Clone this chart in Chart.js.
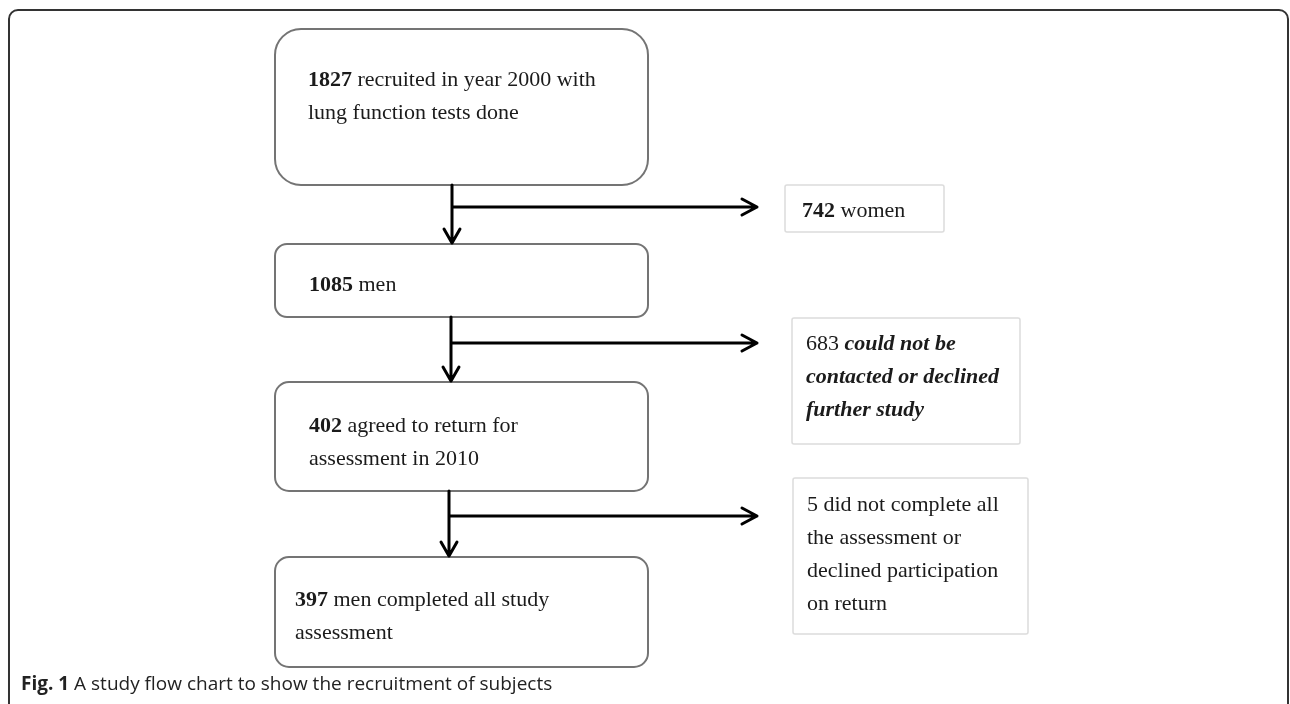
<!DOCTYPE html>
<html>
<head>
<meta charset="utf-8">
<script src="https://cdn.jsdelivr.net/npm/chart.js@4"></script>
<style>
  body { margin: 0; background: #fff; }
  #wrap { width: 1290px; height: 704px; }
</style>
</head>
<body>
<div id="wrap"><canvas id="flow"></canvas></div>
<script>
// study flow: people kept at each stage, and people leaving between stages
let stageCounts = [1827, 1085, 402, 397];
let stageText = [
  ["recruited in year 2000 with", "lung function tests done"],
  ["men"],
  ["agreed to return for", "assessment in 2010"],
  ["men completed all study", "assessment"]
];
let exitCounts = [742, 683, 5];
let exitText = [
  ["women"],
  ["could not be", "contacted or declined", "further study"],
  ["did not complete all", "the assessment or", "declined participation", "on return"]
];
let caption = ["Fig. 1", " A study flow chart to show the recruitment of subjects"];

// layout, in axis units (axes run 0..1290 and 0..704)
let stageBox = [
  {x: 275, y: 29, w: 373, h: 156, r: 26, tx: 308, ty: 80},
  {x: 275, y: 244, w: 373, h: 73, r: 12, tx: 309, ty: 285},
  {x: 275, y: 382, w: 373, h: 109, r: 14, tx: 309, ty: 426},
  {x: 275, y: 557, w: 373, h: 110, r: 14, tx: 295, ty: 600}
];
let exitBox = [
  {x: 785, y: 185, w: 159, h: 47, tx: 802, ty: 211, numFont: "bold", txtFont: ""},
  {x: 792, y: 318, w: 228, h: 126, tx: 806, ty: 344, numFont: "", txtFont: "italic bold"},
  {x: 793, y: 478, w: 235, h: 156, tx: 807, ty: 505, numFont: "", txtFont: ""}
];
let arrowX = [452, 451, 449];
let branchY = [207, 343, 516];
let branchEnd = 757;
let lineGap = 33;
let serif = "22px 'Liberation Serif', 'Times New Roman', serif";
let sans = "19px 'Open Sans', sans-serif";

function roundRect(ctx, x0, y0, x1, y1, r) {
  ctx.beginPath();
  ctx.moveTo(x0 + r, y0);
  ctx.arcTo(x1, y0, x1, y1, r);
  ctx.arcTo(x1, y1, x0, y1, r);
  ctx.arcTo(x0, y1, x0, y0, r);
  ctx.arcTo(x0, y0, x1, y0, r);
  ctx.closePath();
}

function textRun(ctx, x, y, parts) {
  parts.forEach(p => {
    ctx.font = (p.style ? p.style + " " : "") + p.font;
    ctx.fillText(p.text, x, y);
    x += ctx.measureText(p.text).width;
  });
}

const flowPlugin = {
  id: "flow",
  afterDraw(chart) {
    const ctx = chart.ctx;
    const sx = chart.scales.x, sy = chart.scales.y;
    const px = v => sx.getPixelForValue(v);
    const py = v => sy.getPixelForValue(v);
    ctx.save();
    ctx.fillStyle = "#fff";
    ctx.fillRect(0, 0, chart.width, chart.height);

    // outer figure frame
    ctx.strokeStyle = "#333";
    ctx.lineWidth = 2;
    roundRect(ctx, px(9), py(10), px(1288), py(760), 9);
    ctx.stroke();

    ctx.textBaseline = "middle";
    ctx.fillStyle = "#1b1b1b";

    // main stage boxes
    stageCounts.forEach((n, i) => {
      const b = stageBox[i];
      ctx.strokeStyle = "#747474";
      ctx.lineWidth = 2;
      roundRect(ctx, px(b.x), py(b.y), px(b.x + b.w), py(b.y + b.h), b.r);
      ctx.stroke();
      stageText[i].forEach((line, k) => {
        const parts = k === 0
          ? [{text: String(n), style: "bold", font: serif}, {text: " " + line, style: "", font: serif}]
          : [{text: line, style: "", font: serif}];
        textRun(ctx, px(b.tx), py(b.ty + k * lineGap), parts);
      });
    });

    // exit boxes
    exitCounts.forEach((n, i) => {
      const b = exitBox[i];
      ctx.strokeStyle = "#dcdcdc";
      ctx.lineWidth = 1.5;
      roundRect(ctx, px(b.x), py(b.y), px(b.x + b.w), py(b.y + b.h), 2);
      ctx.stroke();
      exitText[i].forEach((line, k) => {
        const parts = k === 0
          ? [{text: String(n), style: b.numFont, font: serif}, {text: " " + line, style: b.txtFont, font: serif}]
          : [{text: line, style: b.txtFont, font: serif}];
        textRun(ctx, px(b.tx), py(b.ty + k * lineGap), parts);
      });
    });

    // arrows between stages, with branch arrows to exits
    ctx.strokeStyle = "#000";
    ctx.lineWidth = 3;
    ctx.lineCap = "round";
    ctx.lineJoin = "round";
    arrowX.forEach((ax, i) => {
      const top = stageBox[i].y + stageBox[i].h;
      const bot = stageBox[i + 1].y;
      ctx.beginPath();
      ctx.moveTo(px(ax), py(top));
      ctx.lineTo(px(ax), py(bot - 1));
      ctx.moveTo(px(ax - 8), py(bot - 15));
      ctx.lineTo(px(ax), py(bot - 1));
      ctx.lineTo(px(ax + 8), py(bot - 15));
      ctx.moveTo(px(ax), py(branchY[i]));
      ctx.lineTo(px(branchEnd), py(branchY[i]));
      ctx.moveTo(px(branchEnd - 15), py(branchY[i] - 8));
      ctx.lineTo(px(branchEnd), py(branchY[i]));
      ctx.lineTo(px(branchEnd - 15), py(branchY[i] + 8));
      ctx.stroke();
    });

    // caption
    ctx.fillStyle = "#222";
    textRun(ctx, px(21), py(685), [
      {text: caption[0], style: "bold", font: sans},
      {text: caption[1], style: "", font: sans}
    ]);
    ctx.restore();
  }
};

new Chart("flow", {
  type: "scatter",
  data: {datasets: [{data: []}]},
  options: {
    responsive: true,
    maintainAspectRatio: false,
    animation: false,
    layout: {padding: 0},
    plugins: {legend: {display: false}, tooltip: {enabled: false}},
    scales: {
      x: {type: "linear", min: 0, max: 1290, display: false},
      y: {type: "linear", min: 0, max: 704, reverse: true, display: false}
    }
  },
  plugins: [flowPlugin]
});
</script>
</body>
</html>
